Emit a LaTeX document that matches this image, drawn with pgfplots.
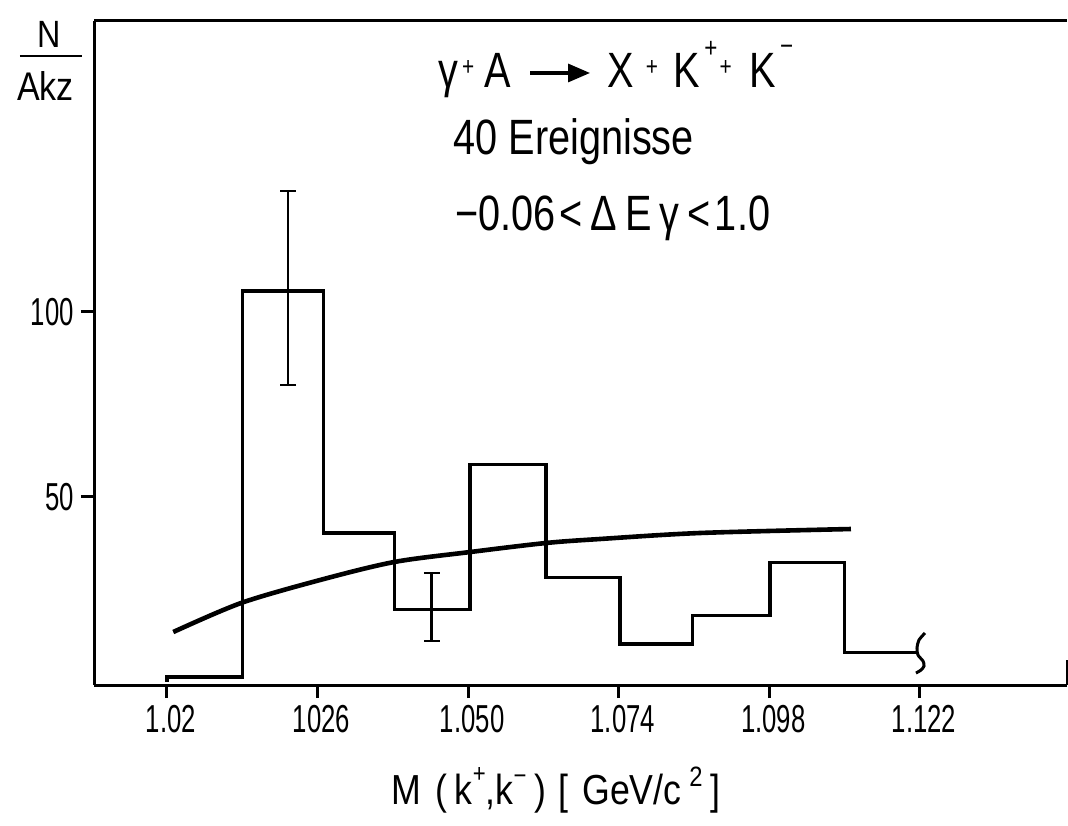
\documentclass[border=0pt]{standalone}
\usepackage{fontspec}
\setmainfont{Liberation Sans}
\newfontfamily\tickfont[FakeStretch=0.66]{Liberation Sans}
\newfontfamily\annfont[FakeStretch=0.8]{Liberation Sans}
\newfontfamily\labfont[FakeStretch=0.85]{Liberation Sans}
\usepackage{pgfplots}
\pgfplotsset{compat=1.18}
\usetikzlibrary{arrows.meta}

% small raised plus sign used between particle symbols
\newcommand\pl{\raisebox{6pt}{\fontsize{13pt}{13pt}\selectfont +}}
\newcommand\supp{\raisebox{15pt}{\fontsize{14pt}{14pt}\selectfont +}}
\newcommand\supm{\raisebox{16pt}{\fontsize{14pt}{14pt}\selectfont −}}

\begin{document}
\begin{tikzpicture}
\path[use as bounding box] (-47pt,-70pt) rectangle (487pt,342.5pt);
\begin{axis}[
  at={(0,0)}, anchor=south west,
  scale only axis, width=486.5pt, height=332pt,
  xmin=0.99037, xmax=1.14543,
  ymin=-0.89, ymax=178.57,
  axis x line*=box, axis y line*=left,
  axis line style={line width=1.5pt, black},
  xtick={1.002,1.026,1.050,1.074,1.098,1.122},
  xticklabels={1.02,1026,1.050,1.074,1.098,1.122},
  ytick={50,100}, yticklabels={50,100},
  xtick pos=left, ytick pos=left,
  tick align=outside, major tick length=6.5pt,
  tick style={line width=1.5pt, black},
  ticklabel style={font=\tickfont\fontsize{19.5pt}{20pt}\selectfont},
  xticklabel style={xshift=2pt},
  clip=false,
]
% measured histogram
\addplot[const plot, line width=1.6pt, black] coordinates {
  (1.0020,0) (1.0020,1.3) (1.0140,105.6) (1.0270,40.2) (1.0382,19.6)
  (1.0503,58.6) (1.0624,28.2) (1.0742,10.2) (1.0857,17.8) (1.0981,32.2)
  (1.1100,7.8) (1.1217,7.8)};
% break symbol at the end of the histogram
\addplot[smooth, line width=1.5pt, black] coordinates {
  (1.12280,13.16) (1.12184,11.27) (1.12152,9.11) (1.12168,7.22)
  (1.12248,5.59) (1.12264,4.24) (1.12216,3.16) (1.12136,2.35)};
% statistical errors
\addplot[draw=none, mark=none, black,
  error bars/.cd, y dir=both, y explicit,
  error mark=-,
  error bar style={line width=1.4pt, black, solid},
  error mark options={rotate=90, line width=1.4pt, mark size=4pt, black, solid}]
  coordinates {
  (1.0213,105.6) += (0,27.0) -= (0,25.4)
  (1.0442,19.6) += (0,9.8) -= (0,8.6)};
% phase space curve
\addplot[smooth, line width=2.3pt, black] coordinates {
  (1.0030,13.43) (1.0138,21.27) (1.0264,27.49) (1.0382,32.35)
  (1.0503,35.05) (1.0624,37.49) (1.0710,38.57) (1.0869,40.19)
  (1.1110,41.27)};
% short piece of the right frame
\draw[line width=1.5pt] (axis cs:1.14543,-0.89) -- (axis cs:1.14543,5.9);

% reaction and cuts
\node[anchor=base west, inner sep=0pt, font=\annfont\fontsize{24.8pt}{26pt}\selectfont]
  at (axis description cs:0.3535,0.8991) {γ\hspace{2pt}\pl\hspace{5pt}A};
\draw[line width=1.6pt, -{Triangle[length=11pt,width=9pt]}]
  (axis description cs:0.4481,0.9217) -- (axis description cs:0.5098,0.9217);
\node[anchor=base west, inner sep=0pt, font=\annfont\fontsize{24.8pt}{26pt}\selectfont]
  at (axis description cs:0.5272,0.8991)
  {X\hspace{6pt}\pl\hspace{8pt}K\hspace{2pt}\supp\hspace{1pt}\pl\hspace{9pt}K\hspace{2pt}\supm};
\node[anchor=base west, inner sep=0pt, font=\annfont\fontsize{24.8pt}{26pt}\selectfont]
  at (axis description cs:0.3690,0.7982) {40 Ereignisse};
\node[anchor=base west, inner sep=0pt, font=\annfont\fontsize{24.8pt}{26pt}\selectfont]
  at (axis description cs:0.3710,0.6852) {−0.06\hspace{2pt}<\hspace{4pt}Δ\hspace{4pt}E\hspace{4pt}γ\hspace{4pt}<\hspace{2pt}1.0};

% y axis quantity
\node[anchor=base, inner sep=0pt, font=\labfont\fontsize{19pt}{20pt}\selectfont]
  at (axis description cs:-0.04625,0.9608) {N};
\draw[line width=1.3pt] (axis description cs:-0.0761,0.9473) -- (axis description cs:-0.0123,0.9473);
\node[anchor=base, inner sep=0pt, font=\labfont\fontsize{20pt}{21pt}\selectfont]
  at (axis description cs:-0.0498,0.8810) {Akz};

% x axis quantity
\node[anchor=base, inner sep=0pt, font=\labfont\fontsize{21pt}{22pt}\selectfont]
  at (axis description cs:0.4748,-0.1807)
  {M\hspace{7pt}(\hspace{4pt}k\raisebox{11pt}{\fontsize{13pt}{13pt}\selectfont +},k\raisebox{10pt}{\fontsize{13pt}{13pt}\selectfont −}\hspace{4pt})\hspace{6pt}[\hspace{7pt}GeV/c\hspace{4pt}\raisebox{9pt}{\fontsize{14pt}{14pt}\selectfont 2}\hspace{4pt}]};
\end{axis}
\end{tikzpicture}
\end{document}
